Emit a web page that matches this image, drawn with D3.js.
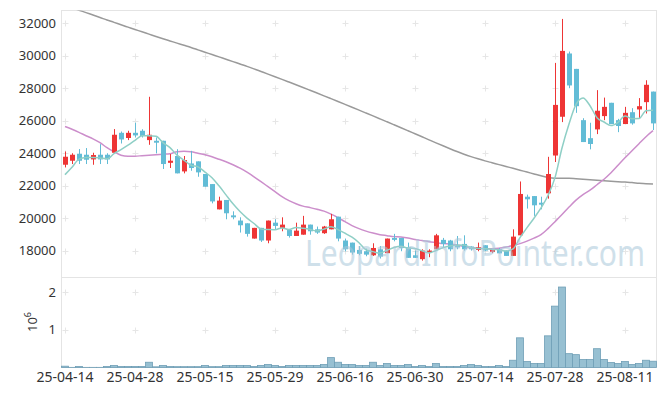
<!DOCTYPE html>
<html>
<head>
<meta charset="utf-8">
<script src="https://cdn.jsdelivr.net/npm/d3@7"></script>
<style>
body{margin:0;background:#fff}
svg{display:block}
text{font-family:"Noto Sans",sans-serif}
</style>
</head>
<body>
<svg class="s"></svg>
<script>
// tick labels (every 10th trading day)
var tickIdx = [0,10,20,30,40,50,60,70,80];
var tickDates = ['25-04-14','25-04-28','25-05-15','25-05-29','25-06-16','25-06-30','25-07-14','25-07-28','25-08-11'];
var priceTicks = [18000,20000,22000,24000,26000,28000,30000,32000];
var volTicks = [1e6,2e6];

var openP = [23292,23538,23970,23908,23620,23908,23908,24030,25260,24940,25260,25385,24810,24770,24770,23410,23830,22880,23370,23500,
  22720,22100,20540,21120,20170,19850,19680,18740,19400,18620,19720,19400,19270,18900,18980,19600,19310,19070,19310,20090,
  18620,18490,18040,17960,17710,18080,17840,18780,18780,18200,17710,17470,17880,18080,18660,18620,18330,18410,18250,18040,
  18330,17920,18080,18000,17670,18940,21320,21360,20950,21530,23860,26250,30150,29200,26040,24930,25470,26290,27110,26040,
  25800,26530,26700,27150,27800];
var highP = [24110,24000,24258,24320,24030,24560,24000,25490,25340,25385,25880,25480,27480,24970,24770,23950,24250,23830,24150,23500,
  22720,22100,21320,21120,20420,20050,19680,19400,19400,19850,19930,20050,19270,19720,20140,19600,19480,19520,20260,20090,
  18740,18490,18280,18120,18450,18280,18740,19030,18780,18490,18000,18080,18080,19030,18780,18660,18900,18940,18280,18490,
  18330,18080,18160,18000,19310,22260,21450,21360,21320,23780,29570,32280,30270,29200,26160,25880,27890,27430,27110,26120,
  26860,26780,27400,28500,27800];
var lowP = [23126,23335,23335,23335,23290,23335,23335,24030,24600,24810,24970,24970,24520,23990,23030,23090,22760,22760,22920,22550,
  21940,20910,20540,19930,19930,19110,18860,18740,18530,18450,19270,19190,18800,18900,18980,18980,19030,19030,19310,18570,
  17950,17750,17710,17650,17670,17510,17840,18570,17960,17550,17550,17380,17590,18080,18160,17960,18080,18000,18000,17960,
  17960,17840,17830,17670,17670,18940,20590,20140,20540,21200,23460,25920,28010,26490,24690,24240,25180,26040,25800,25300,
  25800,25760,26170,26450,25430];
var closeP = [23785,23908,23538,23600,23890,23620,23620,25140,24850,25260,25100,25060,25140,24650,23335,23540,22760,23580,23090,22820,
  21940,21030,21080,20300,20050,19560,19030,19400,18620,19850,19520,19600,18900,19230,19600,19190,19110,19480,19930,18740,
  18080,17880,17800,17750,18160,17630,18740,18660,18160,17550,17550,18000,18000,18940,18410,18080,18200,18080,18080,18200,
  18000,18080,17830,17670,18860,21490,21160,20790,20830,22720,26980,30310,28180,26900,24690,24570,26620,26860,25800,25680,
  26490,25840,26900,28220,25840];
var volume = [35000,4000,26000,4000,4000,4000,26000,53000,26000,26000,26000,26000,140000,18000,53000,26000,22000,22000,22000,22000,
  53000,22000,22000,53000,53000,53000,53000,26000,53000,79000,53000,26000,53000,53000,53000,53000,53000,79000,263000,140000,
  79000,79000,53000,53000,140000,53000,105000,53000,53000,79000,26000,53000,26000,105000,26000,26000,26000,53000,79000,53000,
  26000,26000,53000,26000,193000,789000,158000,105000,105000,842000,1632000,2140000,368000,342000,211000,211000,500000,211000,132000,105000,
  158000,79000,105000,193000,167000];
var ma5 = [22680,23130,23640,23740,23744,23711,23654,23974,24224,24498,24794,25082,25082,25042,24657,24345,23885,23573,23261,23158,
  22838,22492,21992,21434,20880,20404,20004,19668,19332,19292,19284,19398,19298,19420,19370,19304,19206,19322,19462,19290,
  19068,18822,18486,18050,17934,17844,18016,18188,18270,18148,18132,17984,17852,18008,18180,18286,18326,18342,18170,18128,
  18112,18088,18048,17966,18098,18796,19412,19994,20626,21398,22496,24326,25804,27018,27412,26930,26192,25928,25708,25906,
  26290,26134,26142,26626,26658];
var ma20 = [25650,25480,25290,25080,24890,24650,24340,24090,23880,23820,23820,23850,23880,23910,23940,23970,24090,24120,24090,24000,
  23910,23780,23630,23480,23290,23080,22830,22550,22250,21940,21630,21320,21080,20890,20740,20650,20550,20430,20250,20030,
  19780,19540,19350,19200,19080,18980,18920,18860,18830,18770,18680,18620,18550,18490,18430,18400,18340,18250,18180,18150,
  18120,18120,18150,18220,18310,18430,18580,18770,18980,19350,19780,20220,20680,21110,21450,21720,22060,22400,22800,23260,
  23720,24150,24590,25020,25390];
var ma120 = [33120,32970,32820,32670,32520,32370,32215,32070,31920,31775,31630,31490,31345,31200,31060,30925,30790,30655,30520,30375,
  30230,30085,29940,29795,29650,29500,29355,29200,29040,28880,28718,28554,28388,28221,28053,27883,27712,27540,27366,27191,
  27015,26838,26660,26481,26301,26120,25938,25755,25571,25386,25200,25014,24828,24643,24460,24280,24105,23940,23790,23655,
  23530,23415,23300,23185,23070,22955,22840,22725,22610,22505,22460,22460,22460,22430,22400,22370,22340,22310,22280,22250,
  22220,22190,22150,22120,22110];

var w = 665;
var h = 396;
var pLeft = 61.5, pRight = 656.5, pTop = 10.5, pSep = 277.5, pBottom = 367.5;
var upColor = '#ee3535', downColor = '#62bcd6';

var svg = d3.select('.s')
            .attr('width', w)
            .attr('height', h);

var idx = d3.range(closeP.length);

var x = d3.scaleBand()
          .domain(idx)
          .range([pLeft, pRight])
          .padding(0);
var cx = function(i){ return x(i) + x.bandwidth()/2; };

var y = d3.scaleLinear()
          .domain([16340, 32800])
          .range([pSep, pTop]);

var yv = d3.scaleLinear()
           .domain([0, 2.38e6])
           .range([pBottom, pSep + 0.5]);

var defs = svg.append('defs');
defs.append('clipPath').attr('id','clipP')
    .append('rect').attr('x', pLeft).attr('y', pTop).attr('width', pRight-pLeft).attr('height', pSep-pTop);

// frame
var frame = svg.append('g').attr('stroke','#e4e4e4').attr('fill','none');
frame.append('rect').attr('x', pLeft).attr('y', pTop).attr('width', pRight-pLeft).attr('height', pBottom-pTop);
frame.append('line').attr('x1', pLeft).attr('x2', pRight).attr('y1', pSep).attr('y2', pSep);

// grid crosses
var crossG = svg.append('g').attr('stroke','#e6e6e6').attr('stroke-width',1);
var crossYs = priceTicks.map(function(p){ return Math.round(y(p)) + 0.5; })
  .concat(volTicks.map(function(v){ return Math.round(yv(v)) + 0.5; }));
tickIdx.forEach(function(i){
  var xx = Math.round(cx(i)) + 0.5;
  crossYs.forEach(function(yy){
    crossG.append('line').attr('x1', xx-3).attr('x2', xx+3).attr('y1', yy).attr('y2', yy);
    crossG.append('line').attr('x1', xx).attr('x2', xx).attr('y1', yy-3).attr('y2', yy+3);
  });
});

// y axis labels
svg.append('g').selectAll('text')
   .data(priceTicks).enter().append('text')
   .attr('x', 56).attr('y', function(d){ return y(d); })
   .attr('dy','0.35em').attr('text-anchor','end')
   .attr('font-size', 13).attr('fill','#333')
   .text(function(d){ return d; });

svg.append('g').selectAll('text')
   .data(volTicks).enter().append('text')
   .attr('x', 56).attr('y', function(d){ return yv(d); })
   .attr('dy','0.35em').attr('text-anchor','end')
   .attr('font-size', 13).attr('fill','#333')
   .text(function(d){ return d/1e6; });

var vlab = svg.append('text')
   .attr('transform','translate(37,322) rotate(-90)')
   .attr('text-anchor','middle')
   .attr('font-size', 13).attr('fill','#333');
vlab.append('tspan').text('10');
vlab.append('tspan').attr('font-size', 9).attr('dy', -6).text('6');

// x labels
svg.append('g').selectAll('text')
   .data(tickIdx).enter().append('text')
   .attr('x', function(d){ return cx(d); })
   .attr('y', 382)
   .attr('text-anchor','middle')
   .attr('font-size', 14).attr('fill','#333')
   .text(function(d,k){ return tickDates[k]; });

// price panel
var pg = svg.append('g').attr('clip-path','url(#clipP)');

var lineOf = function(arr, curve){
  return d3.line()
           .x(function(d,i){ return cx(i); })
           .y(function(d){ return y(d); })
           .curve(curve)(arr);
};

pg.append('path').attr('d', lineOf(ma120, d3.curveMonotoneX))
  .attr('fill','none').attr('stroke','#9a9a9a').attr('stroke-width',1.5);
pg.append('path').attr('d', lineOf(ma20, d3.curveMonotoneX))
  .attr('fill','none').attr('stroke','#cc8ecb').attr('stroke-width',1.5);

var candles = pg.append('g').selectAll('g')
                .data(idx).enter().append('g');

candles.append('line')
       .attr('x1', function(i){ return Math.round(cx(i)) + 0.5; })
       .attr('x2', function(i){ return Math.round(cx(i)) + 0.5; })
       .attr('y1', function(i){ return y(highP[i]); })
       .attr('y2', function(i){ return y(lowP[i]); })
       .attr('stroke', function(i){ return closeP[i] >= openP[i] ? upColor : downColor; })
       .attr('stroke-width', 1);

candles.append('rect')
       .attr('x', function(i){ return Math.round(cx(i)) - 2; })
       .attr('width', 5)
       .attr('y', function(i){ return y(Math.max(openP[i], closeP[i])); })
       .attr('height', function(i){ return Math.max(1.5, Math.abs(y(openP[i]) - y(closeP[i]))); })
       .attr('fill', function(i){ return closeP[i] >= openP[i] ? upColor : downColor; });

pg.append('path').attr('d', lineOf(ma5, d3.curveMonotoneX))
  .attr('fill','none').attr('stroke','#8fcfc6').attr('stroke-width',1.5);

// volume panel
svg.append('g').selectAll('rect')
   .data(idx).enter().append('rect')
   .attr('x', function(i){ return x(i); })
   .attr('width', x.bandwidth())
   .attr('y', function(i){ return yv(volume[i]); })
   .attr('height', function(i){ return pBottom - yv(volume[i]); })
   .attr('fill','#97c0d2')
   .attr('stroke','#6f9fb6')
   .attr('stroke-width',0.8);

// watermark
svg.append('text')
   .attr('x', 305).attr('y', 266)
   .attr('font-size', 36)
   .attr('textLength', 340).attr('lengthAdjust','spacingAndGlyphs')
   .attr('fill','#a9c8da').attr('opacity',0.55)
   .text('LeopardInfoPointer.com');
</script>
</body>
</html>
